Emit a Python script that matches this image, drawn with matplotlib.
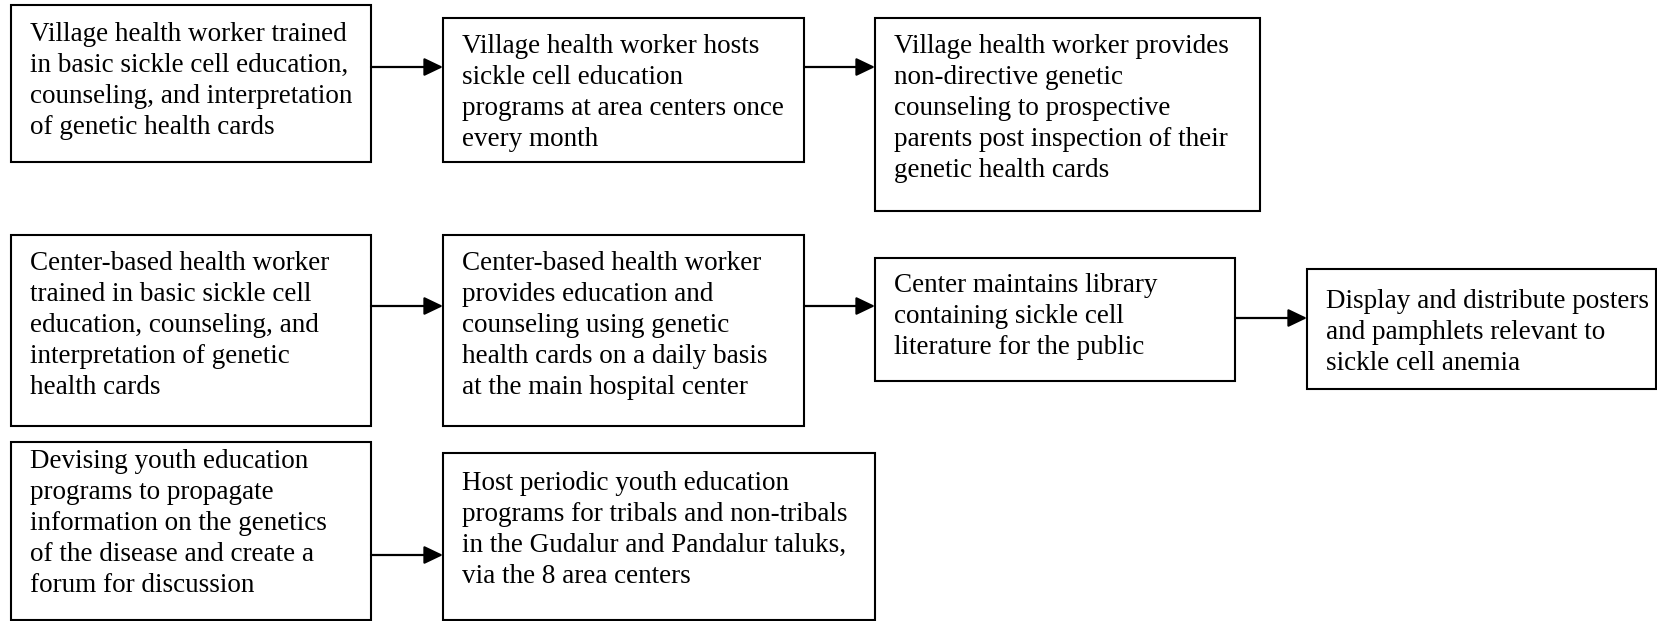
"""flow chart of the sickle cell education programme"""
import matplotlib.pyplot as plt
from matplotlib.patches import Rectangle

# box texts, one list per row
row1_texts = [
    "Village health worker trained\nin basic sickle cell education,\ncounseling, and interpretation\nof genetic health cards",
    "Village health worker hosts\nsickle cell education\nprograms at area centers once\nevery month",
    "Village health worker provides\nnon-directive genetic\ncounseling to prospective\nparents post inspection of their\ngenetic health cards",
]
row2_texts = [
    "Center-based health worker\ntrained in basic sickle cell\neducation, counseling, and\ninterpretation of genetic\nhealth cards",
    "Center-based health worker\nprovides education and\ncounseling using genetic\nhealth cards on a daily basis\nat the main hospital center",
    "Center maintains library\ncontaining sickle cell\nliterature for the public",
    "Display and distribute posters\nand pamphlets relevant to\nsickle cell anemia",
]
row3_texts = [
    "Devising youth education\nprograms to propagate\ninformation on the genetics\nof the disease and create a\nforum for discussion",
    "Host periodic youth education\nprograms for tribals and non-tribals\nin the Gudalur and Pandalur taluks,\nvia the 8 area centers",
]

# layout in pixels: (left, top, right, bottom) and y of the first text line
row1_boxes = [(11, 5, 371, 162), (443, 18, 804, 162), (875, 18, 1260, 211)]
row2_boxes = [(11, 235, 371, 426), (443, 235, 804, 426), (875, 258, 1235, 381), (1307, 269, 1656, 389)]
row3_boxes = [(11, 442, 371, 620), (443, 453, 875, 620)]
row1_text_y = [32, 44, 44]
row2_text_y = [261, 261, 283, 299]
row3_text_y = [459, 481]
row1_arrow_y = [67, 67]
row2_arrow_y = [306, 306, 318]
row3_arrow_y = [555]

W, H = 1657, 621
fig = plt.figure(figsize=(W / 100, H / 100), dpi=100)
ax = fig.add_axes([0, 0, 1, 1])
ax.set_xlim(0, W)
ax.set_ylim(H, 0)
ax.axis("off")

rows = [(row1_texts, row1_boxes, row1_text_y, row1_arrow_y),
        (row2_texts, row2_boxes, row2_text_y, row2_arrow_y),
        (row3_texts, row3_boxes, row3_text_y, row3_arrow_y)]

for texts, boxes, text_y, arrow_y in rows:
    for txt, (l, t, r, b), ty in zip(texts, boxes, text_y):
        ax.add_patch(Rectangle((l, t), r - l, b - t, fill=False,
                               edgecolor="black", linewidth=1.5))
        ax.text(l + 19, ty - 10, txt, ha="left", va="top",
                family="Liberation Serif", fontsize=19.5, linespacing=1.31)
    for i, y in enumerate(arrow_y):
        x0 = boxes[i][2]
        x1 = boxes[i + 1][0]
        ax.annotate("", xy=(x1, y), xytext=(x0, y),
                    arrowprops=dict(arrowstyle="-|>,head_length=1.15,head_width=0.55",
                                    color="black", linewidth=1.6,
                                    shrinkA=0, shrinkB=0))

fig.savefig("out.png", dpi=100)
